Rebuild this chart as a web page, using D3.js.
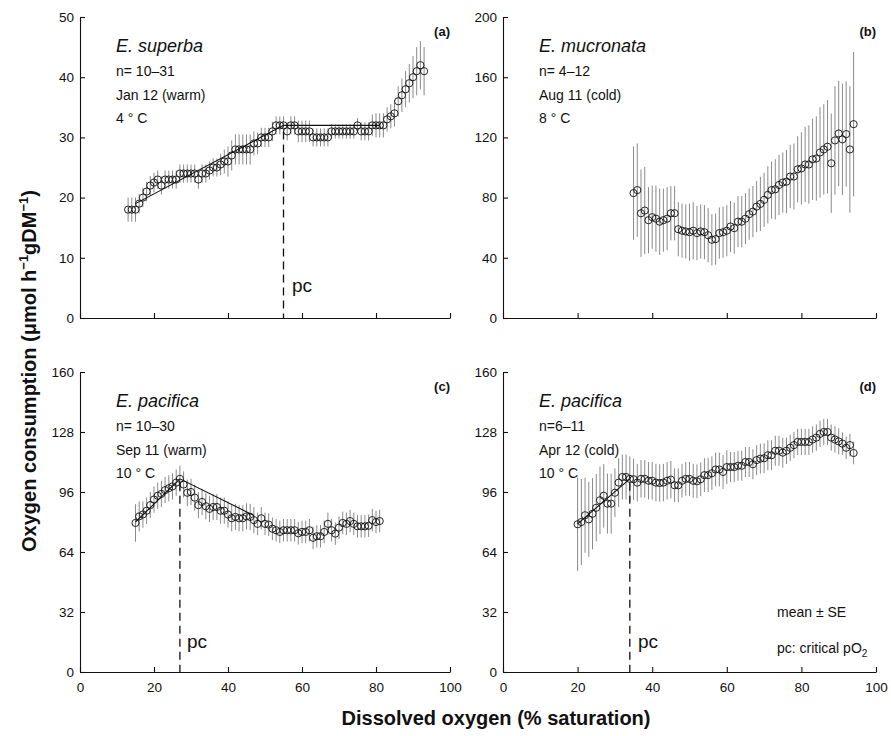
<!DOCTYPE html>
<html>
<head>
<meta charset="utf-8">
<script src="https://cdn.jsdelivr.net/npm/d3@7"></script>
<style>
  html, body { margin: 0; padding: 0; background: #fff; }
  svg text { font-family: "Liberation Sans", Arial, Helvetica, sans-serif; }
</style>
</head>
<body>
<svg id="chart" width="891" height="736"></svg>
<script>
// ---------- DATA ----------
const xTicks = [0, 20, 40, 60, 80, 100];
const aTicks = [0, 10, 20, 30, 40, 50];
const bTicks = [0, 40, 80, 120, 160, 200];
const cTicks = [0, 32, 64, 96, 128, 160];
const dTicks = [0, 32, 64, 96, 128, 160];

// (a) E. superba
const aX = [13,14,15,16,17,18,19,20,21,22,23,24,25,26,27,28,29,30,31,32,33,34,35,36,37,38,39,40,41,42,43,44,45,46,47,48,49,50,51,52,53,54,55,56,57,58,59,60,61,62,63,64,65,66,67,68,69,70,71,72,73,74,75,76,77,78,79,80,81,82,83,84,85,86,87,88,89,90,91,92,93];
const aY = [18,18,18,19,20,21,22,22.5,23,22,23,23,23,23,24,24,24,24,24,23,24,24,24.5,25,25,25.5,26,26,27,28,28,28,28,28,29,29,30,30,30,31,32,32,32,31,32,32,31,31,31,31,30,30,30,30,30,31,31,31,31,31,31,31,32,31,31,31,32,32,32,32,33,33.5,34,36,37,38,39,40,41,42,41];
const aSE = [2,2,2,1.6,1.6,1.6,1.6,1.6,1.5,1.5,1.5,1.5,1.5,1.5,1.5,1.5,1.5,1.5,1.5,1.5,1.5,1.5,1.5,1.5,1.5,1.8,2,2.5,2.5,2.5,2.5,2.5,2.5,2.5,2,1.8,1.6,1.6,1.6,1.6,1.5,1.5,1.5,1.5,1.5,1.5,1.8,1.8,1.8,1.8,1.5,1.5,1.5,1.5,1.5,1.2,1.2,1.2,1.2,1.2,1.2,1.2,1.2,1.5,1.5,1.5,1.8,2,2,2,2,2,2.2,2.5,2.8,3,3.2,3.5,4,4,4];
const aFitX = [15, 55, 81];
const aFitY = [19, 32, 32];
const aPcX = 55, aPcY = 31;

// (b) E. mucronata
const bX = [35,36,37,38,39,40,41,42,43,44,45,46,47,48,49,50,51,52,53,54,55,56,57,58,59,60,61,62,63,64,65,66,67,68,69,70,71,72,73,74,75,76,77,78,79,80,81,82,83,84,85,86,87,88,89,90,91,92,93,94];
const bY = [83,85,69.6,71.4,65,67,66,64,65,66,69.6,69.6,59,58,57.5,57,58,56.4,57.5,57,55,52,52.4,56.4,57,58,60.8,59.7,64,64,66,69,70.7,74,75.8,78.5,81.8,85,85.5,88.4,90,90.6,94,94,98.8,99.4,102,102,105.4,106,110,112,113.8,102.8,118,122.6,118.7,122.2,112,128.8];
const bSE = [31,31,29,29,22,21,22,22,21,21,18,18,18,18,18,19,19,18,18,18,18,17,17,17,17,17,17,17,17,17,17,17,17,17,18,18,19,19,20,20,20,21,21,22,22,24,25,26,27,28,30,30,31,33,36,35,37,35,42,48];

// (c) E. pacifica, Sep 11
const cX = [15,16,17,18,19,20,21,22,23,24,25,26,27,28,29,30,31,32,33,34,35,36,37,38,39,40,41,42,43,44,45,46,47,48,49,50,51,52,53,54,55,56,57,58,59,60,61,62,63,64,65,66,67,68,69,70,71,72,73,74,75,76,77,78,79,80,81];
const cY = [79.5,83,84,86,89,92,94,95,97,98,99,101,103,100,95.6,96,93,89,90.7,88.4,87,88,88,86,86,84,82,82.7,82,82,83,82.7,81,79,82,79,78.6,76.4,75.6,74.7,75.6,75.6,75.6,75.6,74,74.7,74.7,75.6,71.6,72.4,72.4,74.7,79,75.6,73.8,77,79.5,79,80.5,79,77.7,77.7,77.7,78,81,80,80.5];
const cSE = [10,8,7,7,7,7,7,7,7,7,7,7,7,7,7,7,7,7,7,7,7,7,7,7,7,7,7,7,7,7,7,7,7,6,6,6,6,6,6,6,6,6,6,6,6,6,6,6,6,6,6,6,6,6,6,6,6,6,6,6,6,6,6,6,6,6,6];
const cFitX = [15, 27, 47];
const cFitY = [80, 103, 83.5];
const cPcX = 27, cPcY = 101;

// (d) E. pacifica, Apr 12
const dX = [20,21,22,23,24,25,26,27,28,29,30,31,32,33,34,35,36,37,38,39,40,41,42,43,44,45,46,47,48,49,50,51,52,53,54,55,56,57,58,59,60,61,62,63,64,65,66,67,68,69,70,71,72,73,74,75,76,77,78,79,80,81,82,83,84,85,86,87,88,89,90,91,92,93,94];
const dY = [78.8,80,83.6,81.4,84.4,87.6,91.6,94,89.8,89.8,95.6,101,104,104,103,102.8,101,103,103,102,102,101,100.8,101,102,102.6,99.6,99.6,102,103,103,102,101.7,102.8,105,105,106,108,108,106.7,109.3,109.3,109.3,110,110,112,112,110.8,113,113.8,114,115.6,115.6,118,118,117,118,119.6,121,122.7,122.7,122.7,122.7,124,125,127,128,128,125,124,123,121.8,119.6,121,116.8];
const dSE = [25,23,20,20,19,18,18,17,16,16,13,13,12,12,12,11,10,10,10,10,10,10,10,10,10,10,9,9,9,9,9,9,9,9,9,9,9,9,9,9,9,8,8,8,8,8,8,8,8,8,8,8,8,8,8,8,7,7,7,7,7,7,7,7,7,7,7,7,7,7,7,6,6,6,6];
const dFitX = [20, 34];
const dFitY = [79, 103];
const dPcX = 34, dPcY = 101;

// ---------- LAYOUT ----------
const panels = [
  {tag:"(a)", x0:80,  x1:450, yTop:17,  yBot:318, yMax:50,  ticks:aTicks, X:aX, Y:aY, SE:aSE, fitX:aFitX, fitY:aFitY, pcX:aPcX, pcY:aPcY,
   species:"E. superba", lines:["n= 10\u201331","Jan 12 (warm)","4 \u00b0 C"], xLabels:false, pcLabel:[292,292]},
  {tag:"(b)", x0:503, x1:876, yTop:17,  yBot:318, yMax:200, ticks:bTicks, X:bX, Y:bY, SE:bSE, fitX:null, fitY:null, pcX:null,
   species:"E. mucronata", lines:["n= 4\u201312","Aug 11 (cold)","8 \u00b0 C"], xLabels:false},
  {tag:"(c)", x0:80,  x1:450, yTop:372, yBot:672, yMax:160, ticks:cTicks, X:cX, Y:cY, SE:cSE, fitX:cFitX, fitY:cFitY, pcX:cPcX, pcY:cPcY,
   species:"E. pacifica", lines:["n= 10\u201330","Sep 11 (warm)","10 \u00b0 C"], xLabels:true, pcLabel:[187,648]},
  {tag:"(d)", x0:503, x1:876, yTop:372, yBot:672, yMax:160, ticks:dTicks, X:dX, Y:dY, SE:dSE, fitX:dFitX, fitY:dFitY, pcX:dPcX, pcY:dPcY,
   species:"E. pacifica", lines:["n=6\u201311","Apr 12 (cold)","10 \u00b0 C"], xLabels:true, pcLabel:[638,648]}
];

const svg = d3.select("#chart");
const ink = "#111";

panels.forEach(p => {
  const g = svg.append("g");
  const x = d3.scaleLinear().domain([0, 100]).range([p.x0, p.x1]);
  const y = d3.scaleLinear().domain([0, p.yMax]).range([p.yBot, p.yTop]);

  // axes
  const ya = g.append("g").attr("transform", `translate(${p.x0},0)`)
    .call(d3.axisLeft(y).tickValues(p.ticks).tickSizeInner(-5).tickSizeOuter(0).tickPadding(6));
  const xa = g.append("g").attr("transform", `translate(0,${p.yBot})`)
    .call(d3.axisBottom(x).tickValues(xTicks).tickSizeInner(-5).tickSizeOuter(0).tickPadding(10)
      .tickFormat(p.xLabels ? d3.format("d") : () => ""));
  [ya, xa].forEach(a => {
    a.select(".domain").attr("stroke", ink).attr("stroke-width", 1.1);
    a.selectAll(".tick line").attr("stroke", ink).attr("stroke-width", 1.1);
    a.selectAll(".tick text").attr("fill", ink).style("font-size", "13.5px")
      .style("font-family", "'Liberation Sans', Arial, sans-serif");
  });

  const pts = p.X.map((xv, i) => ({x: xv, y: p.Y[i], se: p.SE[i]}));

  // error bars
  g.append("g").selectAll("line").data(pts).join("line")
    .attr("x1", d => x(d.x)).attr("x2", d => x(d.x))
    .attr("y1", d => y(d.y - d.se)).attr("y2", d => y(d.y + d.se))
    .attr("stroke", "#8a8a8a").attr("stroke-width", 1);

  // fitted lines
  if (p.fitX) {
    const fit = p.fitX.map((xv, i) => [xv, p.fitY[i]]);
    g.append("path").datum(fit)
      .attr("d", d3.line().x(d => x(d[0])).y(d => y(d[1])))
      .attr("fill", "none").attr("stroke", ink).attr("stroke-width", 1.1);
  }

  // circles
  g.append("g").selectAll("circle").data(pts).join("circle")
    .attr("cx", d => x(d.x)).attr("cy", d => y(d.y)).attr("r", 3.6)
    .attr("fill", "none").attr("stroke", ink).attr("stroke-width", 0.9);

  // pc dashed line
  if (p.pcX != null) {
    g.append("line")
      .attr("x1", x(p.pcX)).attr("x2", x(p.pcX))
      .attr("y1", y(p.pcY)).attr("y2", y(0))
      .attr("stroke", ink).attr("stroke-width", 1.3).attr("stroke-dasharray", "8,5");
    g.append("text").attr("x", p.pcLabel[0]).attr("y", p.pcLabel[1])
      .style("font-size", "19px").attr("fill", ink).text("pc");
  }

  // panel tag
  g.append("text").attr("x", p.x1).attr("y", p.yTop + 19).attr("text-anchor", "end")
    .style("font-size", "13px").style("font-weight", "bold").attr("fill", ink).text(p.tag);

  // species & info
  const tx = p.x0 + 36;
  g.append("text").attr("x", tx).attr("y", p.yTop + 35)
    .style("font-size", "18px").style("font-style", "italic").attr("fill", ink).text(p.species);
  p.lines.forEach((t, i) => {
    g.append("text").attr("x", tx).attr("y", p.yTop + 59 + i * 23.5)
      .style("font-size", "14px").attr("fill", ink).text(t);
  });
});

// legend in panel (d)
svg.append("text").attr("x", 777).attr("y", 617).style("font-size", "14px").attr("fill", ink).text("mean \u00b1 SE");
const lg = svg.append("text").attr("x", 777).attr("y", 653).style("font-size", "14px").attr("fill", ink);
lg.append("tspan").text("pc: critical pO");
lg.append("tspan").attr("dy", 4).style("font-size", "10px").text("2");

// axis titles
svg.append("text").attr("x", 496).attr("y", 725).attr("text-anchor", "middle")
  .style("font-size", "20px").style("font-weight", "bold").attr("fill", ink)
  .text("Dissolved oxygen (% saturation)");

const yl = svg.append("text").attr("transform", "translate(36,371) rotate(-90)")
  .attr("text-anchor", "middle").style("font-size", "20px").style("font-weight", "bold").attr("fill", ink);
yl.append("tspan").text("Oxygen consumption (\u03bcmol h");
yl.append("tspan").attr("dy", -8).style("font-size", "13px").text("\u22121");
yl.append("tspan").attr("dy", 8).text("gDM");
yl.append("tspan").attr("dy", -8).style("font-size", "13px").text("\u22121");
yl.append("tspan").attr("dy", 8).text(")");
</script>
</body>
</html>
